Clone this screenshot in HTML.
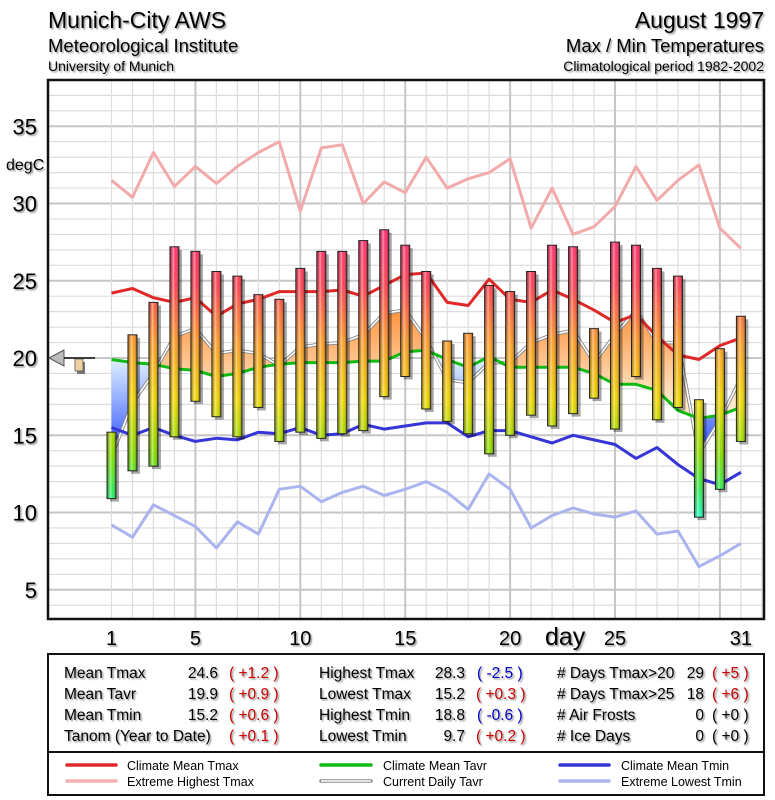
<!DOCTYPE html>
<html><head><meta charset="utf-8">
<style>
html,body{margin:0;padding:0;background:#fff;}
svg{display:block;font-family:"Liberation Sans",Arial,sans-serif;}
.sh{text-shadow:1.5px 1.5px 1.5px #999;}
</style></head>
<body>
<svg id="chart" width="775" height="800" viewBox="0 0 775 800" xmlns="http://www.w3.org/2000/svg">
<defs>
<linearGradient id="barGrad" gradientUnits="userSpaceOnUse" x1="0" y1="220" x2="0" y2="520">
<stop offset="0" stop-color="#ff2a7a"/>
<stop offset="0.22" stop-color="#ff4455"/>
<stop offset="0.4" stop-color="#ff9a2a"/>
<stop offset="0.6" stop-color="#f0d800"/>
<stop offset="0.78" stop-color="#88e000"/>
<stop offset="0.9" stop-color="#33ee55"/>
<stop offset="1" stop-color="#22ffcc"/>
</linearGradient>
<linearGradient id="cyl" x1="0" y1="0" x2="1" y2="0">
<stop offset="0" stop-color="#000" stop-opacity="0.25"/>
<stop offset="0.35" stop-color="#fff" stop-opacity="0.45"/>
<stop offset="0.6" stop-color="#fff" stop-opacity="0"/>
<stop offset="1" stop-color="#000" stop-opacity="0.35"/>
</linearGradient>
<linearGradient id="warmGrad" gradientUnits="userSpaceOnUse" x1="0" y1="300" x2="0" y2="400">
<stop offset="0" stop-color="#ff8a30"/>
<stop offset="1" stop-color="#ffe8c8"/>
</linearGradient>
<linearGradient id="coldGrad" gradientUnits="userSpaceOnUse" x1="0" y1="360" x2="0" y2="450">
<stop offset="0" stop-color="#dff0ff"/>
<stop offset="1" stop-color="#3355ff"/>
</linearGradient>
</defs>
<g id="grid"></g>
<g id="fills"></g>
<g id="lines"></g>
<g id="bars"></g>
<rect x="48" y="80" width="716" height="539" fill="none" stroke="#111" stroke-width="2.5"/>
<g id="yticks"></g>
<g id="xticks"></g>
<text x="6" y="170" font-size="16" class="sh">degC</text>
<text x="545" y="645" font-size="25" class="sh">day</text>
<g>
<polygon points="49,358 64,350 64,366" fill="#bbb" stroke="#555" stroke-width="1"/>
<line x1="64" y1="358" x2="95" y2="358" stroke="#111" stroke-width="1.5"/>
<rect x="77" y="362" width="8" height="12" fill="#777"/>
<rect x="75" y="359" width="8" height="12" fill="#f0d0a0" stroke="#555" stroke-width="0.8"/>
</g>
<g>
<text x="48" y="28" font-size="23" class="sh">Munich-City AWS</text>
<text x="48" y="52" font-size="18.5" class="sh">Meteorological Institute</text>
<text x="48" y="71" font-size="14" class="sh">University of Munich</text>
</g>
<g text-anchor="end">
<text x="764" y="28" font-size="23" class="sh">August 1997</text>
<text x="764" y="52" font-size="18.5" class="sh">Max / Min Temperatures</text>
<text x="764" y="71" font-size="14" class="sh">Climatological period 1982-2002</text>
</g>
<g>
<rect x="48" y="654" width="716" height="141" fill="#fff" stroke="#111" stroke-width="2"/>
<line x1="48" y1="752" x2="764" y2="752" stroke="#111" stroke-width="2"/>
<g font-size="15.5" class="sh">
<text x="64" y="678">Mean Tmax</text><text x="218" y="678" text-anchor="end">24.6</text><text x="229" y="678" fill="#c00">( +1.2 )</text>
<text x="64" y="699">Mean Tavr</text><text x="218" y="699" text-anchor="end">19.9</text><text x="229" y="699" fill="#c00">( +0.9 )</text>
<text x="64" y="720">Mean Tmin</text><text x="218" y="720" text-anchor="end">15.2</text><text x="229" y="720" fill="#c00">( +0.6 )</text>
<text x="64" y="741">Tanom (Year to Date)</text><text x="229" y="741" fill="#c00">( +0.1 )</text>
<text x="319" y="678">Highest Tmax</text><text x="465" y="678" text-anchor="end">28.3</text><text x="477" y="678" fill="#00c">( -2.5 )</text>
<text x="319" y="699">Lowest Tmax</text><text x="465" y="699" text-anchor="end">15.2</text><text x="476" y="699" fill="#c00">( +0.3 )</text>
<text x="319" y="720">Highest Tmin</text><text x="465" y="720" text-anchor="end">18.8</text><text x="477" y="720" fill="#00c">( -0.6 )</text>
<text x="319" y="741">Lowest Tmin</text><text x="465" y="741" text-anchor="end">9.7</text><text x="476" y="741" fill="#c00">( +0.2 )</text>
<text x="557" y="678"># Days Tmax&gt;20</text><text x="704" y="678" text-anchor="end">29</text><text x="712" y="678" fill="#c00">( +5 )</text>
<text x="557" y="699"># Days Tmax&gt;25</text><text x="704" y="699" text-anchor="end">18</text><text x="712" y="699" fill="#c00">( +6 )</text>
<text x="557" y="720"># Air Frosts</text><text x="704" y="720" text-anchor="end">0</text><text x="712" y="720">( +0 )</text>
<text x="557" y="741"># Ice Days</text><text x="704" y="741" text-anchor="end">0</text><text x="712" y="741">( +0 )</text>
</g>
</g>
<g font-size="12.5">
<g><line x1="67" y1="765" x2="116" y2="765" stroke="#e02828" stroke-width="3.5" stroke-linecap="round"/><text x="127" y="770">Climate Mean Tmax</text></g>
<g><line x1="67" y1="781" x2="116" y2="781" stroke="#f4b0b0" stroke-width="3.5" stroke-linecap="round"/><text x="127" y="786">Extreme Highest Tmax</text></g>
<g><line x1="321" y1="765" x2="371" y2="765" stroke="#11bb11" stroke-width="3.5" stroke-linecap="round"/><text x="383" y="770">Climate Mean Tavr</text></g>
<g><line x1="321" y1="781" x2="371" y2="781" stroke="#888" stroke-width="3.5" stroke-linecap="round"/><line x1="321" y1="781" x2="371" y2="781" stroke="#fff" stroke-width="1.5"/><text x="383" y="786">Current Daily Tavr</text></g>
<g><line x1="560" y1="765" x2="609" y2="765" stroke="#3535d8" stroke-width="3.5" stroke-linecap="round"/><text x="621" y="770">Climate Mean Tmin</text></g>
<g><line x1="560" y1="781" x2="609" y2="781" stroke="#aab4f0" stroke-width="3.5" stroke-linecap="round"/><text x="621" y="786">Extreme Lowest Tmin</text></g>
</g>
</svg>
<script>
const days = [1,2,3,4,5,6,7,8,9,10,11,12,13,14,15,16,17,18,19,20,21,22,23,24,25,26,27,28,29,30,31];
const tmax = [15.2,21.5,23.6,27.2,26.9,25.6,25.3,24.1,23.8,25.8,26.9,26.9,27.6,28.3,27.3,25.6,21.1,21.6,24.7,24.3,25.6,27.3,27.2,21.9,27.5,27.3,25.8,25.3,17.3,20.6,22.7];
const tmin = [10.9,12.7,13.0,14.9,17.2,16.2,14.9,16.8,14.6,15.2,14.8,15.1,15.3,17.5,18.8,16.7,15.9,15.1,13.8,15.0,16.3,15.6,16.4,17.4,15.4,18.8,16.0,16.8,9.7,11.5,14.6];
const tavr = [13.6,17.1,19.0,21.4,21.9,20.3,20.5,20.3,19.5,20.7,20.9,21.0,21.5,22.9,23.1,21.2,18.6,18.4,19.7,19.7,21.0,21.5,21.8,19.7,21.5,23.1,21.0,21.0,13.8,16.0,18.7];
const climMax = [24.2,24.5,23.9,23.6,23.9,22.7,23.5,23.8,24.3,24.3,24.3,24.4,24.0,24.7,25.4,25.5,23.6,23.4,25.1,23.8,23.6,24.4,23.8,23.1,22.3,22.8,21.4,20.2,19.9,20.8,21.3];
const climAvr = [19.9,19.7,19.6,19.3,19.2,18.8,19.0,19.4,19.6,19.7,19.7,19.7,19.8,19.8,20.4,20.5,19.9,19.4,20.1,19.4,19.4,19.4,19.4,19.0,18.3,18.3,17.9,16.6,16.1,16.3,16.8];
const climMin = [15.5,15.0,15.5,15.0,14.6,14.8,14.7,15.2,15.1,15.5,15.0,15.1,15.7,15.4,15.6,15.8,15.8,14.9,15.3,15.3,14.9,14.5,15.0,14.7,14.4,13.5,14.2,13.1,12.2,11.8,12.6];
const extMax = [31.5,30.4,33.3,31.1,32.4,31.3,32.4,33.3,34.0,29.5,33.6,33.8,30.0,31.4,30.7,33.0,31.0,31.6,32.0,32.9,28.4,31.0,28.0,28.5,29.8,32.4,30.2,31.5,32.5,28.4,27.1];
const extMin = [9.2,8.4,10.5,9.8,9.1,7.7,9.4,8.6,11.5,11.7,10.7,11.3,11.7,11.1,11.5,12.0,11.3,10.2,12.5,11.5,9.0,9.8,10.3,9.9,9.7,10.1,8.6,8.8,6.5,7.2,8.0];
const yTicks = [5,10,15,20,25,30,35];
const xTickDays = [1,5,10,15,20,25,31];

const NS = "http://www.w3.org/2000/svg";
function Y(t){ return 358 - (t-20)*15.45; }
function X(d){ return 111.5 + (d-1)*20.98; }
function mk(tag, attrs, parent){ const e=document.createElementNS(NS,tag); for(const k in attrs) e.setAttribute(k,attrs[k]); parent.appendChild(e); return e; }

const grid=document.getElementById('grid');
for(let t=4;t<=37;t++){
  const l=mk('line',{x1:48,x2:764,y1:Y(t),y2:Y(t),stroke:t%5===0?'#c6c6c6':'#dcdcdc','stroke-width':t%5===0?2:1.2},grid);
  
  
}
for(let d=1;d<=32;d++){
  const l=mk('line',{x1:X(d),x2:X(d),y1:80,y2:619,stroke:d%5===0?'#c6c6c6':'#dcdcdc','stroke-width':d%5===0?2:1.2},grid);
  
  
}

const fills=document.getElementById('fills');
function poly(pts, fill){
  const p=mk('polygon',{points:pts.map(p=>p[0].toFixed(1)+','+p[1].toFixed(1)).join(' '),fill:fill},fills);
  
  
}
for(let i=0;i<days.length-1;i++){
  const a0=tavr[i]-climAvr[i], a1=tavr[i+1]-climAvr[i+1];
  const x0=X(days[i]), x1=X(days[i+1]);
  if((a0>=0)===(a1>=0)){
    poly([[x0,Y(tavr[i])],[x1,Y(tavr[i+1])],[x1,Y(climAvr[i+1])],[x0,Y(climAvr[i])]], a0>=0?'url(#warmGrad)':'url(#coldGrad)');
  } else {
    const f=a0/(a0-a1); const xm=x0+f*(x1-x0); const tm=climAvr[i]+f*(climAvr[i+1]-climAvr[i]);
    poly([[x0,Y(tavr[i])],[xm,Y(tm)],[x0,Y(climAvr[i])]], a0>=0?'url(#warmGrad)':'url(#coldGrad)');
    poly([[xm,Y(tm)],[x1,Y(tavr[i+1])],[x1,Y(climAvr[i+1])]], a1>=0?'url(#warmGrad)':'url(#coldGrad)');
  }
}

const lines=document.getElementById('lines');
function path(arr){ return arr.map((v,i)=>(i?'L':'M')+X(days[i]).toFixed(1)+' '+Y(v).toFixed(1)).join(' '); }
function line(arr,color,w,name){
  const p=mk('path',{d:path(arr),fill:'none',stroke:color,'stroke-width':w,'stroke-linejoin':'round'},lines);
  
  
}
line(tavr,'#8a8a8a',3.5,'current-tavr-outline');
line(tavr,'#ffffff',1.6,'current-tavr-line');
line(extMax,'#f2aaaa',3,'extreme-highest-tmax-line');
line(extMin,'#aab4ee',3,'extreme-lowest-tmin-line');
line(climMax,'#e02828',3,'climate-mean-tmax-line');
line(climAvr,'#11bb11',3,'climate-mean-tavr-line');
line(climMin,'#3535d8',3,'climate-mean-tmin-line');

const bars=document.getElementById('bars');
days.forEach((d,i)=>{
  const g=mk('g',{},bars);
  
  
  const x=X(d)-4.5, y1=Y(tmax[i]), y2=Y(tmin[i]);
  mk('rect',{x:x+3,y:y1+3,width:9,height:y2-y1,fill:'#000','fill-opacity':0.35},g);
  mk('rect',{x:x,y:y1,width:9,height:y2-y1,fill:'url(#barGrad)',stroke:'#222','stroke-width':1},g);
  mk('rect',{x:x+0.5,y:y1+0.5,width:8,height:y2-y1-1,fill:'url(#cyl)'},g);
});

const yt=document.getElementById('yticks');
yTicks.forEach(t=>{
  const e=mk('text',{x:37,y:Y(t)+8,'font-size':22,'text-anchor':'end',class:'sh'},yt);
  e.textContent=t;
  
  
});
const xt=document.getElementById('xticks');
xTickDays.forEach(d=>{
  const e=mk('text',{x:X(d),y:645,'font-size':20,'text-anchor':'middle',class:'sh'},xt);
  e.textContent=d;
  
  
});
</script>
</body></html>
